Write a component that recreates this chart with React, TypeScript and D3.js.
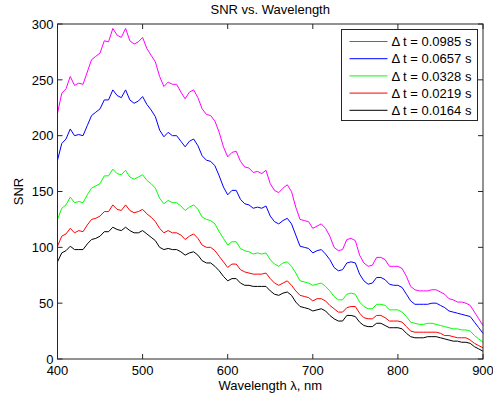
import * as d3 from "d3";

const wavelength = d3.range(400, 901, 5);

const snr0985 = [
  220, 238, 242, 253, 245, 247, 246, 257, 268, 271, 274, 285, 284, 296, 290, 288, 296, 285, 282, 284,
  288, 278, 272, 266, 253, 244, 248, 246, 246, 239, 233, 239, 241, 234, 224, 219, 218, 213, 203, 190,
  181, 185, 186, 177, 172, 171, 167, 168, 166, 169, 157, 151, 149, 153, 156, 150, 136, 125, 124, 123,
  117, 119, 121, 117, 110, 100, 97, 98, 107, 108, 106, 93, 86, 83, 84, 91, 91, 89, 83, 83,
  83, 81, 74, 65, 62, 61, 61, 61, 62, 62, 60, 58, 54, 53, 51, 51, 50, 48, 42, 36, 30,
];
const snr0657 = [
  178, 193, 197, 206, 200, 201, 200, 209, 218, 221, 224, 232, 232, 241, 236, 234, 241, 232, 229, 231,
  235, 228, 223, 217, 205, 199, 203, 200, 200, 195, 190, 195, 197, 191, 182, 178, 177, 173, 164, 154,
  147, 151, 151, 143, 139, 138, 135, 136, 135, 137, 128, 123, 121, 124, 126, 121, 111, 101, 100, 99,
  95, 97, 98, 94, 89, 82, 79, 80, 86, 87, 86, 76, 70, 67, 68, 73, 73, 71, 67, 66,
  66, 64, 58, 52, 49, 49, 49, 49, 50, 50, 48, 46, 43, 42, 41, 40, 39, 38, 33, 28, 23,
];
const snr0328 = [
  125, 135, 138, 145, 140, 141, 140, 147, 153, 155, 157, 164, 164, 170, 166, 165, 169, 163, 161, 163,
  165, 160, 157, 153, 144, 139, 142, 140, 140, 137, 133, 136, 138, 134, 127, 125, 124, 121, 114, 108,
  102, 105, 105, 99, 97, 96, 94, 95, 94, 95, 89, 85, 83, 86, 87, 83, 77, 70, 69, 68,
  66, 67, 68, 65, 61, 56, 53, 53, 58, 59, 58, 51, 47, 45, 45, 49, 49, 48, 44, 44,
  44, 42, 38, 33, 32, 31, 31, 32, 32, 31, 30, 29, 28, 27, 27, 26, 26, 25, 21, 18, 15,
];
const snr0219 = [
  101, 110, 112, 117, 113, 115, 114, 120, 125, 126, 128, 132, 132, 138, 134, 133, 138, 133, 131, 132,
  134, 130, 127, 123, 117, 113, 115, 113, 113, 111, 107, 110, 112, 108, 102, 100, 100, 97, 92, 87,
  82, 85, 85, 80, 78, 77, 76, 76, 76, 77, 72, 68, 66, 68, 70, 66, 61, 57, 56, 55,
  52, 54, 54, 52, 48, 45, 42, 42, 46, 47, 47, 41, 37, 36, 36, 39, 39, 37, 34, 34,
  34, 33, 29, 25, 24, 24, 24, 24, 24, 24, 23, 21, 21, 20, 19, 19, 19, 17, 14, 12, 10,
];
const snr0164 = [
  87, 95, 97, 101, 98, 98, 98, 103, 107, 108, 110, 114, 114, 118, 116, 115, 118, 115, 113, 113,
  115, 112, 109, 106, 100, 98, 99, 98, 98, 96, 93, 95, 96, 93, 88, 86, 86, 83, 79, 74,
  70, 72, 72, 68, 66, 66, 65, 65, 65, 65, 61, 58, 57, 59, 60, 57, 51, 47, 46, 45,
  43, 44, 45, 43, 39, 36, 34, 34, 39, 39, 38, 33, 30, 29, 29, 32, 32, 30, 28, 28,
  28, 27, 23, 20, 19, 19, 19, 20, 20, 20, 19, 18, 17, 16, 16, 15, 15, 14, 11, 9, 7,
];

const seriesLabels = ["Δ t = 0.0985 s", "Δ t = 0.0657 s", "Δ t = 0.0328 s", "Δ t = 0.0219 s", "Δ t = 0.0164 s"];
const seriesColors = ["#ff00ff", "#0000ff", "#00ff00", "#ff0000", "#000000"];
const seriesValues = [snr0985, snr0657, snr0328, snr0219, snr0164];

const xTicks = [400, 500, 600, 700, 800, 900];
const yTicks = [0, 50, 100, 150, 200, 250, 300];

const width = 493;
const height = 398;
const marginLeft = 57.5;
const marginRight = 10;
const marginTop = 24;
const marginBottom = 39;

const font = "'Liberation Sans', Arial, Helvetica, sans-serif";

export default function App() {
  const x = d3.scaleLinear().domain([400, 900]).range([marginLeft, width - marginRight]);
  const y = d3.scaleLinear().domain([0, 300]).range([height - marginBottom, marginTop]);
  const line = d3
    .line<number>()
    .x((_, i) => x(wavelength[i]))
    .y((d) => y(d));

  const x0 = x(400);
  const x1 = x(900);
  const y0 = y(0);
  const y1 = y(300);
  const tick = 5;

  const legX = 341.5;
  const legY = 29.5;
  const legW = 136;
  const legH = 91;
  const rowH = 17.2;

  return (
    <svg
      width={width}
      height={height}
      style={{ position: "absolute", left: 0, top: 0, background: "#fff" }}
      fontFamily={font}
    >
      <rect x={0} y={0} width={width} height={height} fill="#fff" />
      <g fill="none" strokeWidth={1}>
        {seriesValues.map((vals, i) => (
          <path key={i} d={line(vals) || ""} stroke={seriesColors[i]} strokeLinejoin="round" />
        ))}
      </g>
      {/* frame */}
      <rect x={x0} y={y1} width={x1 - x0} height={y0 - y1} fill="none" stroke="#262626" strokeWidth={1} />
      {xTicks.map((t) => (
        <g key={t}>
          <line x1={x(t)} x2={x(t)} y1={y0} y2={y0 - tick} stroke="#262626" />
          <line x1={x(t)} x2={x(t)} y1={y1} y2={y1 + tick} stroke="#262626" />
          <text x={x(t)} y={y0 + 16} fontSize={13} textAnchor="middle" fill="#000">
            {t}
          </text>
        </g>
      ))}
      {yTicks.map((t) => (
        <g key={t}>
          <line x1={x0} x2={x0 + tick} y1={y(t)} y2={y(t)} stroke="#262626" />
          <line x1={x1} x2={x1 - tick} y1={y(t)} y2={y(t)} stroke="#262626" />
          <text x={x0 - 4} y={y(t)} dy="0.36em" fontSize={13} textAnchor="end" fill="#000">
            {t}
          </text>
        </g>
      ))}
      <text x={(x0 + x1) / 2} y={13.5} fontSize={13} textAnchor="middle" fill="#000">
        SNR vs. Wavelength
      </text>
      <text x={(x0 + x1) / 2} y={389.5} fontSize={13} textAnchor="middle" fill="#000">
        Wavelength λ, nm
      </text>
      <text
        transform={`translate(23,${(y0 + y1) / 2}) rotate(-90)`}
        fontSize={13}
        textAnchor="middle"
        fill="#000"
      >
        SNR
      </text>
      {/* legend */}
      <rect x={legX} y={legY} width={legW} height={legH} fill="#fff" stroke="#262626" />
      {seriesLabels.map((label, i) => {
        const cy = legY + 12 + i * rowH;
        return (
          <g key={label}>
            <line x1={legX + 8} x2={legX + 46} y1={cy} y2={cy} stroke={seriesColors[i]} />
            <text x={legX + 50} y={cy} dy="0.36em" fontSize={13} fill="#000">
              {label}
            </text>
          </g>
        );
      })}
    </svg>
  );
}
